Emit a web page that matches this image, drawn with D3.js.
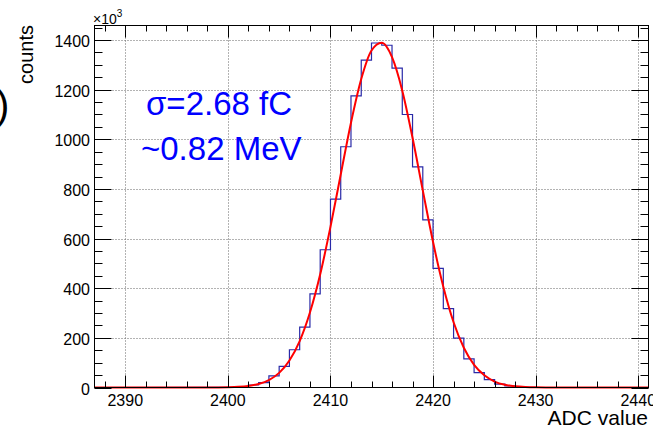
<!DOCTYPE html>
<html>
<head>
<meta charset="utf-8">
<script src="https://cdn.jsdelivr.net/npm/d3@7"></script>
<style>
  html, body { margin: 0; padding: 0; background: #fff; }
  svg { display: block; }
  text { font-family: "Liberation Sans", Arial, Helvetica, sans-serif; }
</style>
</head>
<body>
<svg id="chart" width="653" height="430"></svg>
<script>
// ---- data (counts in units of 10^3) ----
const binLow = [2399, 2400, 2401, 2402, 2403, 2404, 2405, 2406, 2407, 2408, 2409,
                2410, 2411, 2412, 2413, 2414, 2415, 2416, 2417, 2418, 2419,
                2420, 2421, 2422, 2423, 2424, 2425, 2426, 2427, 2428, 2429];
const binCounts = [0.5, 1, 3, 10, 20, 47, 85, 152, 243, 377, 555,
                   759, 970, 1175, 1319, 1388, 1379, 1287, 1100, 889, 675,
                   480, 318, 199, 115, 60, 32, 14, 6, 2, 1];
// Gaussian fit curve
const fitX = [2387, 2398, 2399, 2400, 2401, 2402, 2403, 2404, 2405, 2406, 2407, 2408, 2409,
              2410, 2411, 2412, 2413, 2414, 2415, 2416, 2417, 2418, 2419,
              2420, 2421, 2422, 2423, 2424, 2425, 2426, 2427, 2428, 2429, 2430, 2431, 2441];
const fitY = [0, 0.1, 0.4, 1.1, 2.7, 6.5, 14.4, 30, 59, 109, 187, 302, 456,
              647, 858, 1067, 1243, 1358, 1389, 1331, 1196, 1006, 794,
              586, 406, 263, 160, 91, 49, 24, 11, 5, 2.1, 0.8, 0.3, 0];
const xDomain = [2387, 2441];
const yDomain = [0, 1458.5];
const xMajorTicks = [2390, 2400, 2410, 2420, 2430, 2440];
const yMajorTicks = [0, 200, 400, 600, 800, 1000, 1200, 1400];
const xMinorStep = 2;
const yMinorStep = 50;
const xTitle = "ADC value";
const yTitle = "counts";
const annotation = ["σ=2.68 fC", "~0.82 MeV"];

// ---- layout ----
const L = 94.5, R = 648.5, T = 25.5, B = 387.5;
const svg = d3.select("#chart");
const x = d3.scaleLinear().domain(xDomain).range([L, R]);
const y = d3.scaleLinear().domain(yDomain).range([B, T]);

const xMinor = d3.range(xDomain[0] + 1, xDomain[1], xMinorStep).filter(v => !xMajorTicks.includes(v));
const yMinor = d3.range(0, yDomain[1], yMinorStep).filter(v => !yMajorTicks.includes(v));

// grid
const grid = svg.append("g").attr("stroke", "#666").attr("stroke-width", 1).attr("stroke-dasharray", "1,2");
grid.selectAll(".gx").data(xMajorTicks).join("line")
  .attr("x1", d => Math.round(x(d)) + 0.5).attr("x2", d => Math.round(x(d)) + 0.5)
  .attr("y1", T).attr("y2", B);
grid.selectAll(".gy").data(yMajorTicks.filter(v => v > 0)).join("line")
  .attr("y1", d => Math.round(y(d)) + 0.5).attr("y2", d => Math.round(y(d)) + 0.5)
  .attr("x1", L).attr("x2", R);

// histogram outline
const pts = [[xDomain[0], 0]];
binLow.forEach((lo, i) => { pts.push([lo, binCounts[i]]); pts.push([lo + 1, binCounts[i]]); });
pts.push([binLow[binLow.length - 1] + 1, 0]);
pts.push([xDomain[1], 0]);
svg.append("path")
  .attr("d", d3.line().x(d => x(d[0])).y(d => y(d[1]))(pts))
  .attr("fill", "none").attr("stroke", "#2a2aa8").attr("stroke-width", 1.2);

// fit curve
svg.append("path")
  .attr("d", d3.line().x(d => x(d[0])).y(d => y(d[1])).curve(d3.curveMonotoneX)(fitX.map((v, i) => [v, fitY[i]])))
  .attr("fill", "none").attr("stroke", "#ff0000").attr("stroke-width", 2);

// axes
const axisColor = "#000";
const ax = svg.append("g").attr("stroke", axisColor).attr("stroke-width", 1).attr("fill", "none");
ax.append("rect").attr("x", L).attr("y", T).attr("width", R - L).attr("height", B - T);

// x ticks bottom & top
const xt = (vals, len) => {
  ax.selectAll(null).data(vals).join("line")
    .attr("x1", d => Math.round(x(d)) + 0.5).attr("x2", d => Math.round(x(d)) + 0.5)
    .attr("y1", B).attr("y2", B - len);
  ax.selectAll(null).data(vals).join("line")
    .attr("x1", d => Math.round(x(d)) + 0.5).attr("x2", d => Math.round(x(d)) + 0.5)
    .attr("y1", T).attr("y2", T + len);
};
xt(xMajorTicks, 12);
xt(xMinor, 6);
const yt = (vals, len) => {
  ax.selectAll(null).data(vals).join("line")
    .attr("y1", d => Math.round(y(d)) + 0.5).attr("y2", d => Math.round(y(d)) + 0.5)
    .attr("x1", L).attr("x2", L + len);
  ax.selectAll(null).data(vals).join("line")
    .attr("y1", d => Math.round(y(d)) + 0.5).attr("y2", d => Math.round(y(d)) + 0.5)
    .attr("x1", R).attr("x2", R - len);
};
yt(yMajorTicks, 17);
yt(yMinor, 8);

// tick labels
svg.append("g").selectAll("text").data(xMajorTicks).join("text")
  .attr("x", d => x(d)).attr("y", 405.5)
  .attr("text-anchor", "middle").attr("font-size", 16).attr("fill", "#000")
  .text(d => d);
svg.append("g").selectAll("text").data(yMajorTicks).join("text")
  .attr("x", 90).attr("y", d => y(d) + 7)
  .attr("text-anchor", "end").attr("font-size", 16).attr("fill", "#000")
  .text(d => d);

// exponent
const ex = svg.append("text").attr("x", 93).attr("y", 24).attr("font-size", 14).attr("fill", "#000");
ex.append("tspan").text("×10");
ex.append("tspan").attr("dy", -7).attr("font-size", 10).text("3");

// axis titles
svg.append("text").attr("x", 648).attr("y", 424.5).attr("text-anchor", "end")
  .attr("font-size", 21).attr("fill", "#000").text(xTitle);
svg.append("text").attr("transform", "translate(33,25) rotate(-90)")
  .attr("text-anchor", "end").attr("font-size", 20).attr("fill", "#000").text(yTitle);

// partial panel label
svg.append("text").attr("x", -4).attr("y", 119).attr("font-size", 40).attr("fill", "#000").text(")");

// annotation
svg.append("text").attr("x", 146).attr("y", 115).attr("font-size", 33)
  .attr("fill", "#0000ff").text(annotation[0]);
svg.append("text").attr("x", 141).attr("y", 160).attr("font-size", 33)
  .attr("fill", "#0000ff").text(annotation[1]);
</script>
</body>
</html>
